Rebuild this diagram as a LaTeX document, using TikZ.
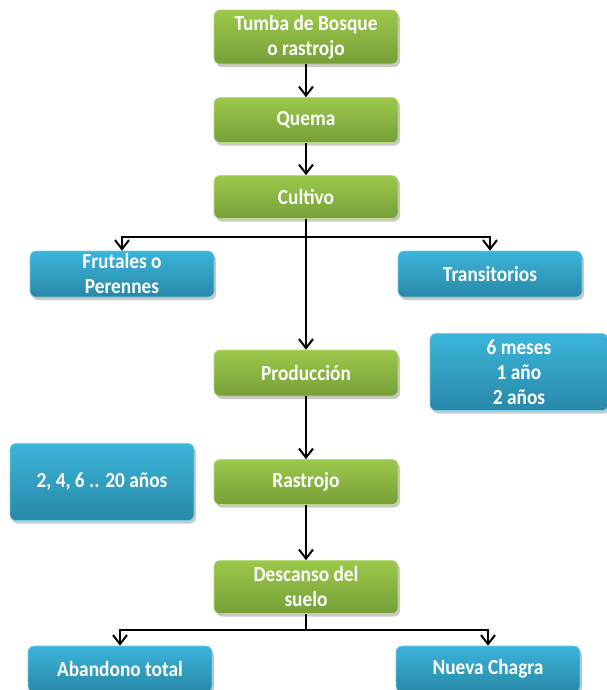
\documentclass[tikz,border=0pt]{standalone}
\usepackage{fontspec}
\setmainfont{Carlito}[FakeStretch=0.9]
\usetikzlibrary{arrows.meta,shadows}
\definecolor{gtop}{HTML}{9CC84B}
\definecolor{gbot}{HTML}{76A038}
\definecolor{btop}{HTML}{3BB5DA}
\definecolor{bbot}{HTML}{2888A8}
\tikzset{
  box/.style={rounded corners=6pt, minimum height=#1, align=center,
    font=\fontsize{21.5}{25}\selectfont\bfseries, text=white, inner sep=2pt,
    drop shadow={shadow xshift=2pt, shadow yshift=-3pt, opacity=0.3, fill=black!70}},
  gbox/.style={box=45pt, minimum width=184pt, top color=gtop, bottom color=gbot, draw=gtop!70!white, line width=0.6pt},
  bbox/.style={box=45pt, minimum width=184pt, top color=btop, bottom color=bbot, draw=btop!70!white, line width=0.6pt},
  arr/.style={line width=2pt, -{Straight Barb[length=9pt,width=14pt,line width=2pt]}},
  ln/.style={line width=2pt}
}
\begin{document}
\begin{tikzpicture}[x=1pt,y=-1pt]
\useasboundingbox (0,0) rectangle (607,690);
\node[gbox, minimum height=54pt] (tumba) at (306,37) {Tumba de Bosque\\o rastrojo};
\node[gbox] (quema) at (306,120) {Quema};
\node[gbox, minimum height=43pt] (cultivo) at (306,197) {Cultivo};
\node[bbox, minimum height=46pt] (frut) at (122,274) {Frutales o\\Perennes};
\node[bbox, minimum height=46pt] (trans) at (490,274) {Transitorios};
\node[gbox, minimum height=46pt] (prod) at (306,373) {Producción};
\node[bbox, minimum width=178pt, minimum height=77pt, text depth=0pt] (meses) at (519,372) {6 meses\\1 año\\2 años};
\node[bbox, minimum height=77pt] (anos) at (102,482) {2, 4, 6 .. 20 años};
\node[gbox] (rast) at (306,482) {Rastrojo};
\node[gbox, minimum height=53pt] (desc) at (306,587) {Descanso del\\suelo};
\node[bbox, minimum height=46pt] (aban) at (120,669) {Abandono total};
\node[bbox, minimum height=46pt] (nueva) at (488,669) {Nueva Chagra};
\coordinate (b1) at (306,237);
\coordinate (b2) at (306,630);
\draw[arr] (tumba) -- (quema);
\draw[arr] (quema) -- (cultivo);
\draw[arr] (cultivo) -- (prod);
\draw[arr] (b1) -| (frut.north);
\draw[arr] (b1) -| (trans.north);
\draw[arr] (prod) -- (rast);
\draw[arr] (rast) -- (desc);
\draw[ln] (desc) -- (b2);
\draw[arr] (b2) -| (aban.north);
\draw[arr] (b2) -| (nueva.north);
\end{tikzpicture}
\end{document}
